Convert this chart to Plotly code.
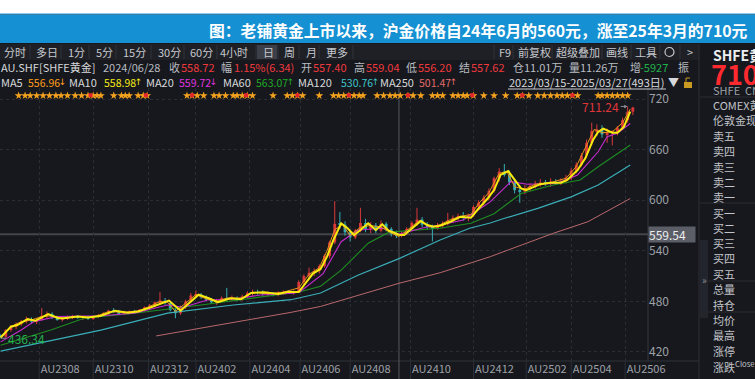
import plotly.graph_objects as go

FONT = "Noto Sans CJK SC, Noto Sans, DejaVu Sans, sans-serif"
BG = "#16181d"

# ---------------- data ----------------
tick_day = [30, 72, 115, 152, 194, 233, 272, 319, 368, 409, 444, 486]
tick_text = ["AU2308", "AU2310", "AU2312", "AU2402", "AU2404", "AU2406",
             "AU2408", "AU2410", "AU2412", "AU2502", "AU2504", "AU2506"]
price_ticks = [420, 480, 540, 600, 660, 720]

candle_day = list(range(0, 493, 4))
c_open = [440, 438, 446, 450, 453, 456, 459, 456, 458, 463,
          465, 461, 459, 460, 461, 462, 461, 462, 460, 462,
          463, 466, 469, 468, 466, 467, 468, 467, 470, 473,
          475, 479, 481, 478, 470, 466, 473, 480, 487, 488,
          485, 482, 479, 481, 484, 483, 484, 482, 486, 490,
          491, 490, 489, 489, 488, 490, 491, 490, 492, 503,
          510, 514, 516, 522, 534, 550, 572, 571, 562, 556,
          564, 573, 566, 570, 564, 572, 566, 560, 558, 561,
          566, 573, 577, 571, 569, 567, 570, 572, 576, 579,
          581, 579, 582, 592, 597, 603, 611, 626, 634, 630,
          621, 612, 610, 614, 617, 619, 621, 620, 622, 620,
          623, 627, 635, 642, 653, 668, 682, 684, 678, 680,
          681, 686, 695, 705]
c_high = [441, 447, 452, 455, 458, 462, 461, 460, 472, 468,
          467, 463, 462, 463, 464, 464, 463, 463, 463, 465,
          467, 470, 472, 470, 469, 469, 470, 471, 474, 477,
          480, 491, 484, 480, 472, 475, 482, 490, 493, 490,
          487, 484, 483, 486, 496, 487, 486, 488, 492, 494,
          494, 493, 492, 491, 492, 493, 493, 493, 505, 512,
          520, 519, 524, 536, 552, 599, 586, 575, 565, 566,
          591, 578, 574, 573, 576, 574, 568, 564, 563, 568,
          575, 591, 580, 574, 571, 573, 575, 585, 582, 584,
          586, 584, 594, 600, 606, 614, 628, 638, 643, 635,
          624, 615, 618, 620, 623, 625, 624, 626, 625, 626,
          630, 638, 645, 656, 672, 692, 690, 689, 685, 683,
          688, 698, 711.24, 710.8]
c_low = [436.34, 437, 444, 447, 451, 454, 454, 453, 457, 460,
         459, 457, 456, 458, 459, 459, 458, 458, 458, 460,
         462, 464, 466, 465, 464, 465, 465, 466, 468, 471,
         473, 477, 476, 468, 460, 464, 471, 478, 484, 483,
         480, 477, 476, 479, 481, 480, 480, 481, 484, 487,
         488, 487, 486, 486, 486, 488, 489, 488, 491, 500,
         507, 510, 513, 520, 531, 548, 566, 558, 551, 554,
         562, 562, 561, 561, 562, 563, 557, 555, 556, 559,
         563, 570, 568, 565, 551, 565, 567, 570, 573, 576,
         576, 575, 580, 589, 594, 600, 609, 622, 628, 618,
         608, 597, 607, 611, 614, 616, 617, 616, 618, 618,
         620, 624, 632, 640, 650, 665, 676, 674, 668, 665,
         677, 683, 692, 701]
c_close = [437, 446, 450, 453, 456, 459, 456, 458, 463, 465,
           461, 459, 460, 461, 462, 461, 462, 460, 462, 463,
           466, 469, 468, 466, 467, 468, 467, 470, 473, 475,
           479, 481, 478, 470, 466, 473, 480, 487, 488, 485,
           482, 479, 481, 484, 483, 484, 482, 486, 490, 491,
           490, 489, 489, 488, 490, 491, 490, 492, 503, 510,
           514, 516, 522, 534, 550, 572, 571, 562, 556, 564,
           573, 566, 570, 564, 572, 566, 560, 558, 561, 566,
           573, 577, 571, 569, 567, 570, 572, 576, 579, 581,
           579, 582, 592, 597, 603, 611, 626, 634, 630, 621,
           612, 610, 614, 617, 619, 621, 620, 622, 620, 623,
           627, 635, 642, 653, 668, 682, 684, 678, 680, 681,
           686, 695, 705, 710]

ma5_day = [0, 8, 16, 24, 32, 40, 48, 60, 72, 84, 96, 108, 116, 124, 130, 136, 144, 152, 160, 168,
           176, 188, 196, 208, 220, 232, 240, 248, 254, 260, 266, 272, 280, 288, 296, 304, 310, 318, 326, 334,
           342, 350, 358, 366, 372, 380, 388, 394, 400, 408, 416, 428, 440, 448, 456, 462, 468, 476, 484, 490]
ma5_val = [438, 450, 456, 458, 462, 463, 460, 462, 461, 468, 467, 469, 474, 480, 479, 468, 478, 488, 483, 480,
           484, 484, 491, 489, 491, 496, 512, 520, 540, 565, 571, 558, 568, 570, 568, 561, 556.96, 566, 576, 568,
           571, 577, 581, 583, 596, 609, 632, 634, 616, 613, 619, 621, 626, 640, 665, 684, 680, 681, 692, 708]

ma10_day = [0, 8, 13, 21, 27, 37, 45, 49, 60, 68, 78, 89, 99, 107, 117, 131, 140, 148, 154, 162,
            169, 179, 187, 195, 205, 216, 223, 232, 243, 249, 254, 259, 265, 270, 275, 280, 286, 292, 297, 302,
            310, 314, 319, 327, 332, 337, 342, 350, 358, 366, 371, 376, 379, 384, 389, 395, 399, 405, 409, 414,
            420, 428, 436, 441, 449, 455, 461, 465, 469, 476, 480, 485, 490]
ma10_val = [437, 450, 452, 459, 457, 465, 460, 460, 462, 461, 463, 469, 466.6, 468, 473, 481, 469, 479.6, 488, 483.7,
            479, 483.7, 482.5, 490, 490.8, 488.8, 491, 491, 513, 518.5, 533, 552.8, 572.6, 566.7, 558.7, 564.7, 572.6, 564.7, 571.4, 563.8,
            558.98, 558.7, 564.7, 575.3, 570.6, 568.6, 569.8, 574.5, 580.5, 579.3, 588.4, 596.3, 602, 612, 630, 634.6, 626, 614, 612, 615,
            619, 620.8, 620.8, 624, 635.8, 649.7, 671.4, 681, 685, 680, 680, 687, 705]

ma20_day = [0, 16, 26, 44, 78, 104, 130, 142, 161, 181, 202, 228, 233, 251, 265,
            278, 298, 310, 329, 342, 360, 381, 397, 410, 433, 449, 465, 472, 480, 490]
ma20_val = [432, 446, 456, 462, 463, 466, 475.7, 473, 481.7, 482.5, 487.6, 489.6, 491.5, 513, 550.8,
            564.7, 566.7, 559.72, 567.4, 570.6, 576.5, 598, 622, 619, 620, 630, 657.5, 675.3, 679.3, 691]

ma60_day = [0, 39, 65, 104, 156, 208, 233, 249, 265, 286, 303, 310, 342, 366, 384, 405, 430, 451, 465, 490]
ma60_val = [428, 446, 460, 466, 475.7, 486.8, 491.5, 498, 517, 549, 562.7, 563.07, 566.7, 572.6, 584, 608, 618, 624, 639.7, 665.5]

ma120_day = [0, 8, 78, 130, 181, 226, 249, 278, 310, 342, 365, 381, 391, 418, 444, 465, 490]
ma120_val = [421, 423.5, 446, 466, 475.7, 482, 490, 511, 530.76, 552.8, 566.7, 573, 578, 590.4, 604, 618, 641.7]

ma250_day = [121, 170, 226, 249, 265, 310, 342, 381, 395, 430, 457, 490]
ma250_val = [439, 452, 467, 474, 481, 501.47, 514, 533, 541, 560.7, 574.5, 602]

star_day = [14, 19, 23, 28, 33, 38, 43, 47, 52, 58, 63, 68, 72, 75, 78, 88, 94, 97, 100, 107, 111, 114,
            145, 149, 153, 158, 166, 170, 175, 181, 184, 188, 192, 196, 212, 223, 227, 231, 235, 248,
            259, 263, 267, 271, 275, 279, 282, 293, 298, 303, 307, 311, 317, 321, 327, 336, 340, 344,
            352, 356, 360, 363, 368, 376, 384, 393, 402, 406, 411, 418, 423, 428, 433, 437, 441, 445,
            449, 465, 468, 472, 476, 480, 484, 488]
flag_day = [70, 113, 149, 191, 231, 271, 317, 367, 406, 445]

cursor_day = 310
cursor_price = 559.54
max_day, max_price = 488, 711.24
min_day, min_price = 0, 436.34

# MA legend texts
ma_names = ["MA5", "MA10", "MA20", "MA60", "MA120", "MA250"]
ma_last = ["556.96", "558.98", "559.72", "563.07", "530.76", "501.47"]
ma_dir = ["↓", "↑", "↓", "↑", "↑", "↑"]

# ---------------- helpers (pixel -> paper) ----------------
PL, PR, PT, PB = 0, 648, 88, 361


def fx(p):
    return (p - PL) / (PR - PL)


def fy(p):
    return (PB - p) / (PB - PT)


shapes = []
annotations = []


def rect(x0, y0, x1, y1, color, layer="below"):
    shapes.append(dict(type="rect", xref="paper", yref="paper", x0=fx(x0), x1=fx(x1),
                       y0=fy(y1), y1=fy(y0), fillcolor=color, line=dict(width=0), layer=layer))


def hline(x0, x1, y, color, w=1, layer="below"):
    shapes.append(dict(type="line", xref="paper", yref="paper", x0=fx(x0), x1=fx(x1),
                       y0=fy(y), y1=fy(y), line=dict(color=color, width=w), layer=layer))


def vline(x, y0, y1, color, w=1, layer="below"):
    shapes.append(dict(type="line", xref="paper", yref="paper", x0=fx(x), x1=fx(x),
                       y0=fy(y0), y1=fy(y1), line=dict(color=color, width=w), layer=layer))


def text(s, x, y, color, size=11, anchor="left", bold=False):
    annotations.append(dict(xref="paper", yref="paper", x=fx(x), y=fy(y),
                            text=f"<b>{s}</b>" if bold else s, showarrow=False,
                            xanchor=anchor, yanchor="middle", borderpad=0,
                            font=dict(family=FONT, size=size, color=color)))


# ---------------- traces ----------------
fig = go.Figure()
UP, DN = "#d9383a", "#36aeb2"
up_i = [i for i in range(len(candle_day)) if c_close[i] >= c_open[i]]
dn_i = [i for i in range(len(candle_day)) if c_close[i] < c_open[i]]

for ids, col in ((up_i, UP), (dn_i, DN)):
    xs, ys = [], []
    for i in ids:
        xs += [candle_day[i], candle_day[i], None]
        ys += [c_low[i], c_high[i], None]
    fig.add_trace(go.Scatter(x=xs, y=ys, mode="lines", line=dict(color=col, width=1),
                             hoverinfo="skip"))
    fig.add_trace(go.Bar(x=[candle_day[i] for i in ids],
                         base=[min(c_open[i], c_close[i]) for i in ids],
                         y=[max(abs(c_close[i] - c_open[i]), 0.6) for i in ids],
                         width=2.2, marker=dict(color=col, line=dict(width=0)),
                         hoverinfo="skip"))

for d, v, col, w in ((ma250_day, ma250_val, "#b9686b", 1),
                     (ma120_day, ma120_val, "#3aaeb8", 1.2),
                     (ma60_day, ma60_val, "#1f8c22", 1.1),
                     (ma20_day, ma20_val, "#c52ccf", 1.1),
                     (ma5_day, ma5_val, "#e8921c", 1),
                     (ma10_day, ma10_val, "#f7ea0e", 2)):
    fig.add_trace(go.Scatter(x=d, y=v, mode="lines", line=dict(color=col, width=w),
                             hoverinfo="skip"))

STAR_Y = 724
fig.add_trace(go.Scatter(x=star_day, y=[STAR_Y] * len(star_day), mode="markers",
                         marker=dict(symbol="star", size=6, color="#f3a21f", line=dict(width=0)),
                         hoverinfo="skip"))
fig.add_trace(go.Scatter(x=flag_day, y=[STAR_Y + 0.5] * len(flag_day), mode="markers",
                         marker=dict(symbol="square", size=4, color="#e3262a"), hoverinfo="skip"))

# ---------------- header / frame shapes ----------------
rect(0, 0, 755, 14, "#ffffff")
rect(0, 13, 755, 14.5, "#8ccbef")
rect(0, 14.5, 755, 43, "#1490d3")
rect(0, 44, 699, 60, "#1e2026")
for sx in [30, 61, 89, 116, 151, 184, 217, 256, 278, 299, 319, 353, 494, 513, 552, 602, 631, 660, 680]:
    vline(sx, 45, 59, "#30333a")
rect(257, 45, 277, 59, "#3c3f48")
vline(699, 44, 379, "#2c2f35")
vline(648, 88, 361, "#34373e")
hline(0, 699, 361, "#2f3238")
for yy in [97, 203, 281, 312]:
    hline(700, 755, yy, "#2a2d33")
rect(700, 240, 708, 318, "#22252b")
hline(508, 666, 89, "#c9cbd0", 1, "above")
rect(684, 82, 692, 88, "#c99a22")
shapes.append(dict(type="path", xref="paper", yref="paper",
                   path=f"M {fx(686)},{fy(82)} L {fx(686)},{fy(78)} L {fx(690)},{fy(78)}",
                   line=dict(color="#c99a22", width=1)))
# small gear icon in toolbar
shapes.append(dict(type="circle", xref="paper", yref="paper", x0=fx(665), x1=fx(674),
                   y0=fy(56.5), y1=fy(47.5), line=dict(color="#c6c8cd", width=1.2)))

# x-axis label separators
for d in tick_day:
    shapes.append(dict(type="line", xref="x", yref="paper", x0=d, x1=d, y0=fy(379), y1=fy(361),
                       line=dict(color="#2c2f36", width=1), layer="below"))
# crosshair
shapes.append(dict(type="line", xref="x", yref="paper", x0=cursor_day, x1=cursor_day,
                   y0=fy(379), y1=1, line=dict(color="#54575e", width=1), layer="below"))
shapes.append(dict(type="line", xref="paper", yref="y", x0=0, x1=1, y0=cursor_price, y1=cursor_price,
                   line=dict(color="#42454c", width=2), layer="below"))

# ---------------- texts ----------------
WHITE = "#d6d8dc"
GRAY = "#b9bcc1"
RED = "#f0383d"

text("图：老铺黄金上市以来，沪金价格自24年6月的560元，涨至25年3月的710元", 749, 30, "#ffffff", 15.8, "right", True)

for s, x in [("分时", 3), ("多日", 35), ("1分", 67), ("5分", 95), ("15分", 122), ("30分", 157),
             ("60分", 189), ("4小时", 219), ("日", 262), ("周", 283), ("月", 305), ("更多", 325),
             ("F9", 498), ("前复权", 517), ("超级叠加", 555), ("画线", 605), ("工具", 634), (">", 686)]:
    text(s, x, 52, "#c6c8cd", 11)

row2 = [("AU.SHF[SHFE黄金]", 0, WHITE), ("2024/06/28", 102, GRAY), ("收", 168, GRAY), ("558.72", 180, RED),
        ("幅", 220, GRAY), ("1.15%(6.34)", 233, RED), ("开", 300, GRAY), ("557.40", 312, RED),
        ("高", 353, GRAY), ("559.04", 365, RED), ("低", 405, GRAY), ("556.20", 417, RED),
        ("结", 458, GRAY), ("557.62", 470, RED), ("仓11.01万", 512, GRAY), ("量11.26万", 568, GRAY),
        ("增", 629, GRAY), ("-5927", 639, "#22b14c"), ("振", 677, GRAY)]
for s, x, c in row2:
    text(s, x, 67, c, 11)

ma_text_colors = ["#ff9d1c", "#f3e817", "#e034e3", "#1faa24", "#40c4cc", "#e56a6a"]
ma_name_x = [0, 68, 145, 222, 297, 379]
ma_val_x = [27, 103, 178, 255, 340, 418]
for name, val, arr, col, nx, vx in zip(ma_names, ma_last, ma_dir, ma_text_colors, ma_name_x, ma_val_x):
    text(name, nx, 82, WHITE, 11)
    text(val, vx, 82, col, 10.5)
    annotations.append(dict(xref="paper", yref="paper", x=fx(vx + 35), y=fy(82), text=arr,
                            showarrow=False, xanchor="center", yanchor="middle", borderpad=0,
                            width=5, font=dict(family="DejaVu Sans", size=9, color=col)))
text("2023/03/15-2025/03/27(493日)", 508, 82, WHITE, 11)
text("▼", 667, 82, WHITE, 11)

# right panel
text("SHFE黄金", 712, 55, "#eceef1", 14, bold=True)
text("710", 710, 74, "#ff2a2f", 27, bold=True)
text("SHFE  CNY", 712, 90, "#9ea1a7", 11)
for s, yy in [("COMEX黄", 105), ("伦敦金现", 120), ("卖五", 136), ("卖四", 151), ("卖三", 167),
              ("卖二", 182), ("卖一", 197), ("买一", 213), ("买二", 228), ("买三", 243), ("买四", 258),
              ("买五", 274), ("总量", 289), ("持仓", 305), ("均价", 320), ("最高", 335), ("涨停", 351),
              ("涨跌<sup>Close</sup>", 366)]:
    text(s, 712, yy, "#c3c5ca", 11)
text("»", 701, 279, "#8d9096", 10)

# price label on axis
annotations.append(dict(xref="paper", yref="y", x=fx(648), y=cursor_price, text="559.54",
                        showarrow=False, xanchor="left", yanchor="middle", bgcolor="#5b5e67",
                        width=46, height=15, align="left", borderpad=0,
                        font=dict(family=FONT, size=12, color="#eeeeee")))
# max / min markers
annotations.append(dict(xref="x", yref="y", x=max_day, y=max_price, text=str(max_price),
                        showarrow=True, ax=-27, ay=0, arrowcolor="#8c8f95", arrowwidth=1,
                        arrowhead=2, arrowsize=0.7, font=dict(family=FONT, size=12, color="#e0363b")))
annotations.append(dict(xref="x", yref="y", x=min_day, y=min_price, text=f"{min_price:.2f}",
                        showarrow=True, ax=26, ay=0, arrowcolor="#8c8f95", arrowwidth=1,
                        arrowhead=0, font=dict(family=FONT, size=12, color="#22b04e")))

fig.update_layout(
    width=755, height=379, margin=dict(l=0, r=107, t=88, b=18),
    paper_bgcolor=BG, plot_bgcolor=BG, showlegend=False, barmode="overlay",
    font=dict(family=FONT, size=12, color=GRAY),
    shapes=shapes, annotations=annotations,
    xaxis=dict(range=[-0.5, 503.8], tickvals=tick_day, ticktext=tick_text, ticklabelshift=21,
               tickangle=0, ticklabeloverflow="allow", tickfont=dict(size=11, color="#9ea1a7"),
               showgrid=True, gridcolor="#2a2d34", griddash="dot", gridwidth=1,
               zeroline=False, showline=False, ticks="", fixedrange=True),
    yaxis=dict(range=[409.3, 733.1], side="right", tickvals=price_ticks,
               tickfont=dict(size=12, color="#9ea1a7"), showgrid=True, gridcolor="#2a2d34",
               griddash="dot", gridwidth=1, zeroline=False, showline=False, ticks="",
               fixedrange=True),
)

fig.write_html("out.html", include_plotlyjs=True, config={"displayModeBar": False},
               post_script="document.body.style.margin='0';document.body.style.overflow='hidden';")
